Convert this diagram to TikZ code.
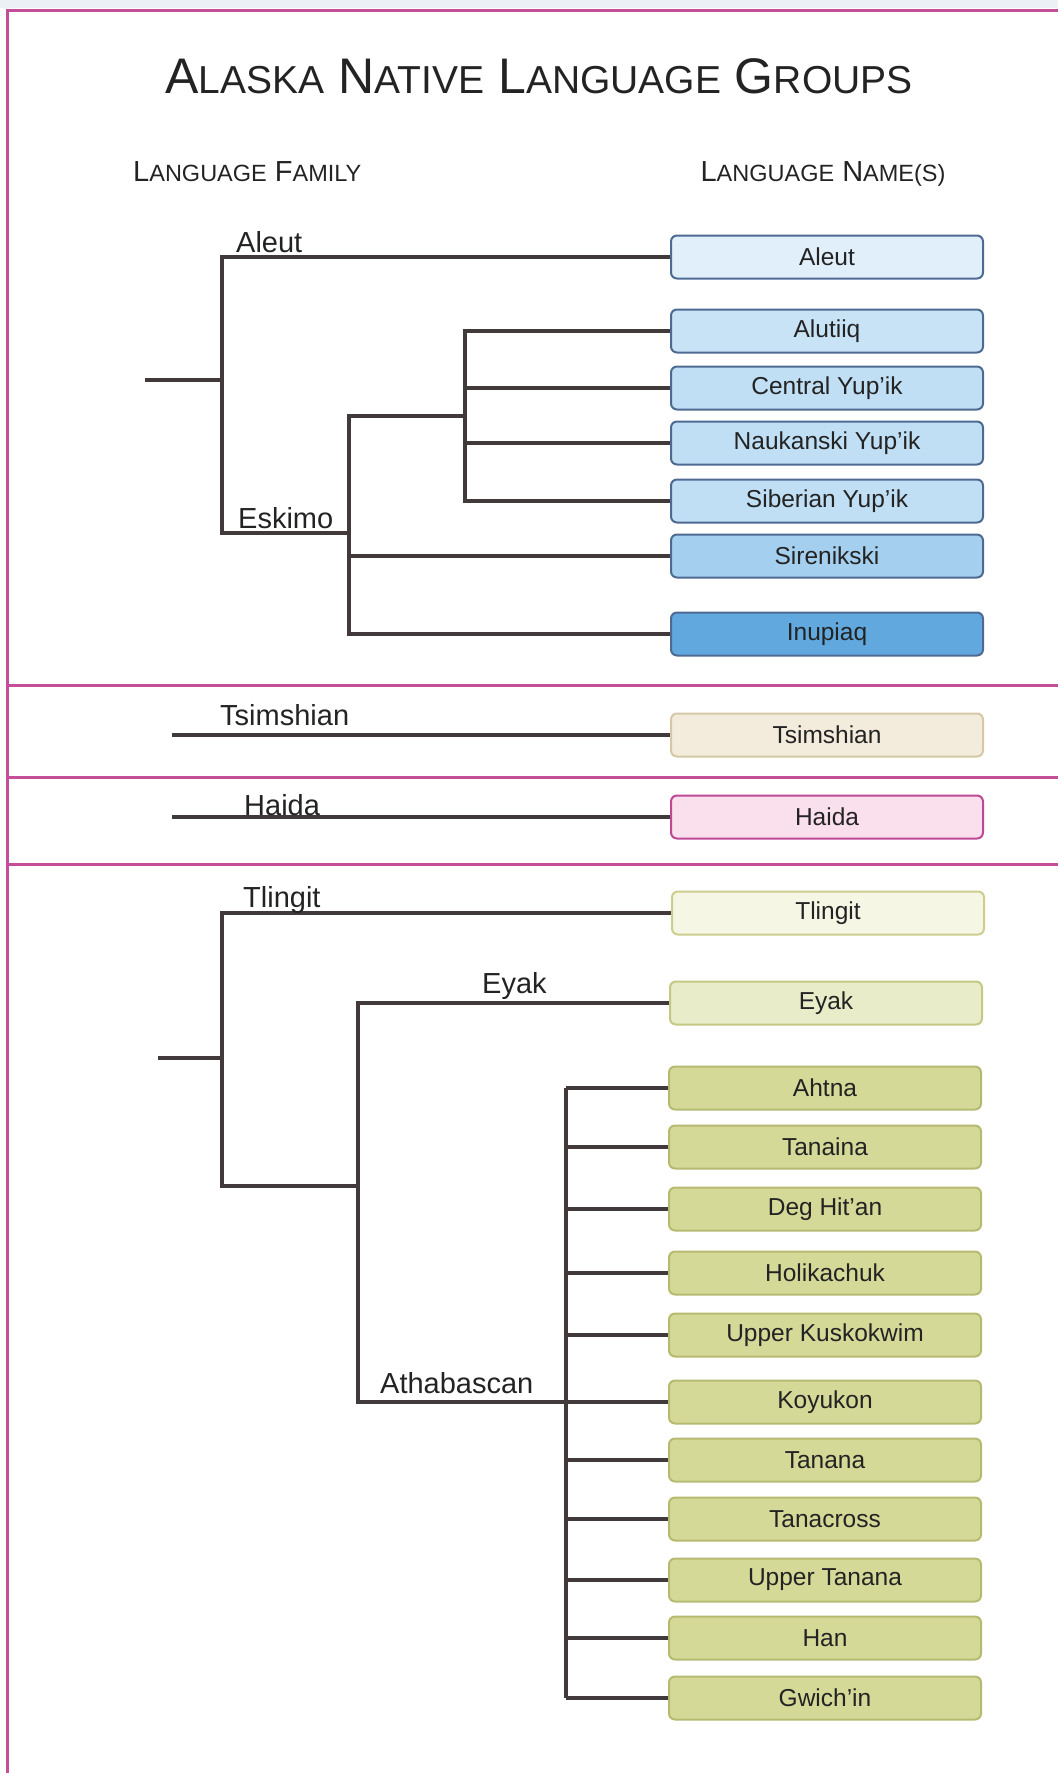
\documentclass[tikz,border=0pt]{standalone}
\usepackage{fontspec}
\setmainfont{Liberation Sans}
\usepackage{tikz}

% Colours
\definecolor{framepink}{RGB}{196,78,152}
\definecolor{topstrip}{RGB}{236,241,246}
\definecolor{treegray}{RGB}{66,58,58}
\definecolor{textgray}{RGB}{35,35,35}
\definecolor{bluedraw}{RGB}{78,106,146}
\definecolor{aleutfill}{RGB}{224,239,250}
\definecolor{alutiiqfill}{RGB}{200,226,246}
\definecolor{yupikfill}{RGB}{192,222,244}
\definecolor{sirenfill}{RGB}{165,207,238}
\definecolor{inupfill}{RGB}{96,168,222}
\definecolor{tsimfill}{RGB}{243,236,221}
\definecolor{tsimdraw}{RGB}{214,200,166}
\definecolor{haidafill}{RGB}{250,223,236}
\definecolor{haidadraw}{RGB}{190,72,150}
\definecolor{tlingfill}{RGB}{246,246,229}
\definecolor{tlingdraw}{RGB}{205,205,142}
\definecolor{eyakfill}{RGB}{232,236,200}
\definecolor{eyakdraw}{RGB}{196,200,132}
\definecolor{athfill}{RGB}{212,217,152}
\definecolor{athdraw}{RGB}{182,186,112}

% fake small caps: big size, small size, first letter, rest
\newcommand{\capsc}[4]{{\fontsize{#1}{#1}\selectfont#3}{\fontsize{#2}{#2}\selectfont#4}}

\tikzset{
  branch/.style={line width=3.2pt, draw=treegray},
  divider/.style={line width=3pt, draw=framepink},
  langbox/.style={draw, rounded corners=6pt, line width=2pt,
    minimum width=312pt, minimum height=43pt, inner sep=0pt,
    font=\fontsize{24.5}{24.5}\selectfont, text=textgray},
  famlabel/.style={anchor=base west, inner sep=0pt,
    font=\fontsize{29}{29}\selectfont, text=textgray},
}

\begin{document}
\begin{tikzpicture}[x=1pt,y=-1pt]

\useasboundingbox (0,0) rectangle (1058,1773);

% Frame
\fill[topstrip] (0,0) rectangle (1058,8);
\draw[divider] (7,1773) -- (7,10) -- (1058,10);
\draw[divider] (7,685) -- (1058,685);
\draw[divider] (7,777) -- (1058,777);
\draw[divider] (7,864) -- (1058,864);

% Title
\node[anchor=base, inner sep=0pt, text=textgray, font=\fontsize{50}{50}\selectfont] (title) at (539,93)
  {\capsc{50}{39}{A}{LASKA} \capsc{50}{39}{N}{ATIVE} \capsc{50}{39}{L}{ANGUAGE} \capsc{50}{39}{G}{ROUPS}};
\node[anchor=base west, inner sep=0pt, text=textgray, font=\fontsize{29}{29}\selectfont] (famhead) at (133,181)
  {\capsc{29}{23.5}{L}{ANGUAGE} \capsc{29}{23.5}{F}{AMILY}};
\node[anchor=base, inner sep=0pt, text=textgray, font=\fontsize{29}{29}\selectfont] (namehead) at (823,181)
  {\capsc{29}{23.5}{L}{ANGUAGE} \capsc{29}{23.5}{N}{AME(S)}};

% Boxes: Aleut and Eskimo
\node[langbox, fill=aleutfill, draw=bluedraw] (aleut) at (827,257) {Aleut};
\node[langbox, fill=alutiiqfill, draw=bluedraw] (alutiiq) at (827,331) {Alutiiq};
\node[langbox, fill=yupikfill, draw=bluedraw] (central) at (827,388) {Central Yup'ik};
\node[langbox, fill=yupikfill, draw=bluedraw] (naukanski) at (827,443) {Naukanski Yup'ik};
\node[langbox, fill=yupikfill, draw=bluedraw] (siberian) at (827,501) {Siberian Yup'ik};
\node[langbox, fill=sirenfill, draw=bluedraw] (sirenikski) at (827,556) {Sirenikski};
\node[langbox, fill=inupfill, draw=bluedraw] (inupiaq) at (827,634) {Inupiaq};

% Tree: Aleut and Eskimo
\coordinate (aeroot) at (145,380);
\coordinate (aej) at (222,380);
\coordinate (eskj) at (349,533);
\coordinate (yupj) at (465,416);
\draw[branch] (aeroot) -- (aej);
\draw[branch] (aej) |- (aleut.west);
\draw[branch] (aej) |- (eskj);
\draw[branch] (eskj) |- (yupj);
\draw[branch] (eskj) |- (sirenikski.west);
\draw[branch] (eskj) |- (inupiaq.west);
\foreach \b in {alutiiq,central,naukanski,siberian}
  \draw[branch] (yupj) |- (\b.west);
\node[famlabel] (aleutlbl) at (236,252) {Aleut};
\node[famlabel] (eskimolbl) at (238,528) {Eskimo};

% Tsimshian and Haida
\node[langbox, fill=tsimfill, draw=tsimdraw] (tsimshian) at (827,735) {Tsimshian};
\coordinate (tsimroot) at (172,735);
\draw[branch] (tsimroot) -- (tsimshian.west);
\node[famlabel] (tsimlbl) at (220,725) {Tsimshian};

\node[langbox, fill=haidafill, draw=haidadraw] (haida) at (827,817) {Haida};
\coordinate (haidaroot) at (172,817);
\draw[branch] (haidaroot) -- (haida.west);
\node[famlabel] (haidalbl) at (244,815) {Haida};

% Boxes: Tlingit, Eyak and Athabascan
\node[langbox, fill=tlingfill, draw=tlingdraw] (tlingit) at (828,913) {Tlingit};
\node[langbox, fill=eyakfill, draw=eyakdraw] (eyak) at (826,1003) {Eyak};
\foreach \n/\y/\t in {ahtna/1088/Ahtna, tanaina/1147/Tanaina, deghitan/1209/Deg Hit'an,
    holikachuk/1273/Holikachuk, upperkusk/1335/Upper Kuskokwim, koyukon/1402/Koyukon,
    tanana/1460/Tanana, tanacross/1519/Tanacross, uppertanana/1580/Upper Tanana,
    han/1638/Han, gwichin/1698/Gwich'in}
  \node[langbox, fill=athfill, draw=athdraw] (\n) at (825,\y) {\t};

% Tree: Tlingit, Eyak and Athabascan
\coordinate (ndroot) at (158,1058);
\coordinate (ndj) at (222,1058);
\coordinate (eaj) at (358,1186);
\coordinate (athx) at (566,0);
\draw[branch] (ndroot) -- (ndj);
\draw[branch] (ndj) |- (tlingit.west);
\draw[branch] (ndj) |- (eaj);
\draw[branch] (eaj) |- (eyak.west);
\draw[branch] (eaj) |- (koyukon.west);
\draw[branch] (ahtna.west -| athx) -- (gwichin.west -| athx);
\foreach \b in {ahtna,tanaina,deghitan,holikachuk,upperkusk,tanana,tanacross,uppertanana,han,gwichin}
  \draw[branch] (\b.west -| athx) -- (\b.west);
\node[famlabel] (tlingitlbl) at (243,907) {Tlingit};
\node[famlabel] (eyaklbl) at (482,993) {Eyak};
\node[famlabel] (athlbl) at (380,1393) {Athabascan};

\end{tikzpicture}
\end{document}
